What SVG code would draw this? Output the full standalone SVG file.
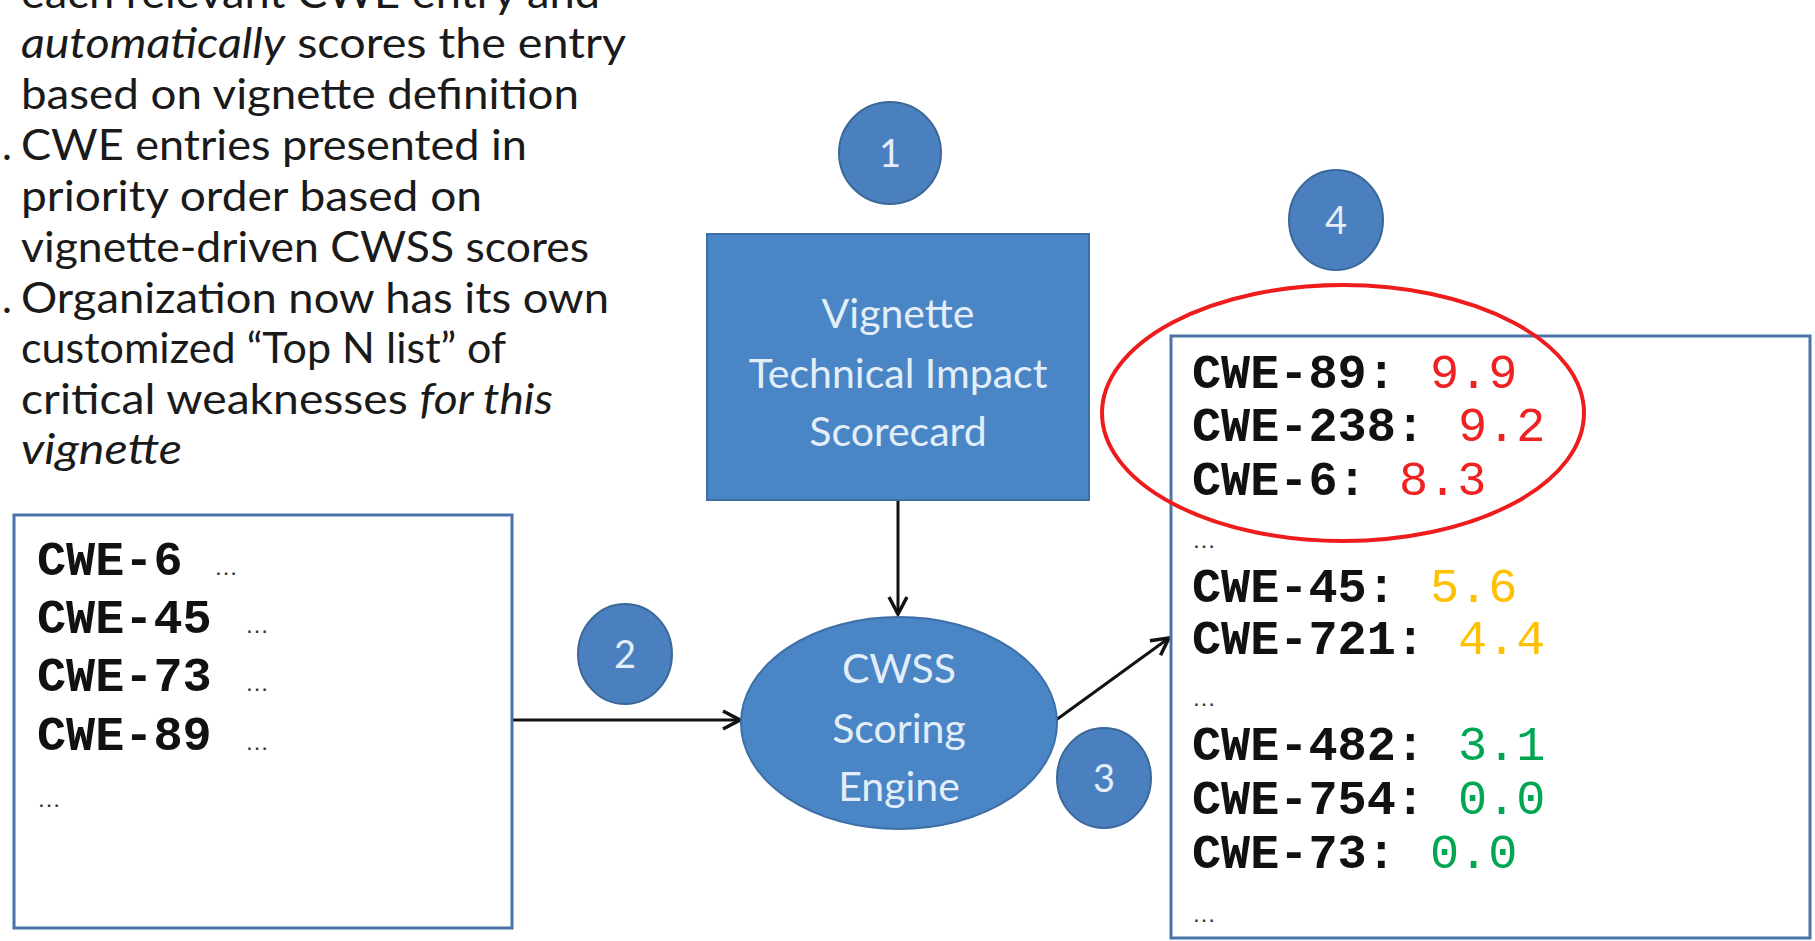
<svg xmlns="http://www.w3.org/2000/svg" width="1815" height="941" viewBox="0 0 1815 941">
<defs>
<style>
.para{font-family:Lato,"Open Sans",sans-serif;font-size:42px;fill:#1a1a1a}
.it{font-style:italic}
.node{fill:#4a86c6;stroke:#3d6fa6;stroke-width:2}
.badge{fill:#4a80c0;stroke:#3b6898;stroke-width:2}
.ntext{font-family:Lato,"Open Sans",sans-serif;font-size:41px;fill:#e3eef9;text-anchor:middle}
.btext{font-family:Lato,"Open Sans",sans-serif;font-size:38px;fill:#e3eef9;text-anchor:middle}
.mono{font-family:"Liberation Mono","Courier New",monospace;font-size:48.5px;font-weight:bold;fill:#111}
.score{font-weight:normal}
.dots{font-family:"Liberation Sans",sans-serif;font-size:24px;fill:#333}
.box{fill:#fff;stroke:#4a74a8;stroke-width:3}
.conn{stroke:#111;stroke-width:3;fill:none}
.red{fill:#ee2222}.org{fill:#ffc000}.grn{fill:#00a651}
</style>
<marker id="ah" viewBox="0 0 24 24" refX="21" refY="12" markerWidth="24" markerHeight="24" markerUnits="userSpaceOnUse" orient="auto">
<path d="M4,3 L21,12 L4,21" fill="none" stroke="#111" stroke-width="3.5"/>
</marker>
</defs>
<rect width="1815" height="941" fill="#fff"/>

<g id="description">
<text class="para" x="21" y="8" textLength="579" lengthAdjust="spacingAndGlyphs">each relevant CWE entry and</text>
<text class="para" x="21" y="58" textLength="605" lengthAdjust="spacingAndGlyphs"><tspan class="it">automatically</tspan> scores the entry</text>
<text class="para" x="21" y="109" textLength="558" lengthAdjust="spacingAndGlyphs">based on vignette definition</text>
<text class="para" x="2" y="160">.</text>
<text class="para" x="21" y="160" textLength="506" lengthAdjust="spacingAndGlyphs">CWE entries presented in</text>
<text class="para" x="21" y="211" textLength="461" lengthAdjust="spacingAndGlyphs">priority order based on</text>
<text class="para" x="21" y="262" textLength="568" lengthAdjust="spacingAndGlyphs">vignette-driven CWSS scores</text>
<text class="para" x="2" y="313">.</text>
<text class="para" x="21" y="313" textLength="588" lengthAdjust="spacingAndGlyphs">Organization now has its own</text>
<text class="para" x="21" y="363" textLength="485" lengthAdjust="spacingAndGlyphs">customized “Top N list” of</text>
<text class="para" x="21" y="414" textLength="532" lengthAdjust="spacingAndGlyphs">critical weaknesses <tspan class="it">for this</tspan></text>
<text class="para it" x="21" y="464" textLength="161" lengthAdjust="spacingAndGlyphs">vignette</text>
</g>

<g id="connectors">
<line class="conn" x1="898" y1="500" x2="898" y2="614" marker-end="url(#ah)"/>
<line class="conn" x1="512" y1="720" x2="740" y2="720" marker-end="url(#ah)"/>
<line class="conn" x1="1056" y1="720" x2="1169" y2="638" marker-end="url(#ah)"/>
</g>

<g id="input-list">
<rect class="box" x="14" y="515" width="498" height="413"/>
<text class="mono" x="37" y="575">CWE-6</text><text class="dots" x="214" y="575">…</text>
<text class="mono" x="37" y="633">CWE-45</text><text class="dots" x="245" y="633">…</text>
<text class="mono" x="37" y="691">CWE-73</text><text class="dots" x="245" y="691">…</text>
<text class="mono" x="37" y="750">CWE-89</text><text class="dots" x="245" y="750">…</text>
<text class="dots" x="37" y="807">…</text>
</g>

<g id="scorecard">
<rect class="node" x="707" y="234" width="382" height="266"/>
<text class="ntext" x="898" y="328">Vignette</text>
<text class="ntext" x="898" y="388">Technical Impact</text>
<text class="ntext" x="898" y="446">Scorecard</text>
</g>

<g id="engine">
<ellipse class="node" cx="899" cy="723" rx="158" ry="106"/>
<text class="ntext" x="899" y="683">CWSS</text>
<text class="ntext" x="899" y="743">Scoring</text>
<text class="ntext" x="899" y="801">Engine</text>
</g>

<g id="badge-1"><ellipse class="badge" cx="890" cy="153" rx="51" ry="51"/><text class="btext" x="890" y="167">1</text></g>
<g id="badge-2"><ellipse class="badge" cx="625" cy="654" rx="47" ry="50"/><text class="btext" x="625" y="668">2</text></g>
<g id="badge-3"><ellipse class="badge" cx="1104" cy="778" rx="47" ry="50"/><text class="btext" x="1104" y="792">3</text></g>
<g id="badge-4"><ellipse class="badge" cx="1336" cy="220" rx="47" ry="50"/><text class="btext" x="1336" y="234">4</text></g>

<g id="ranked-list">
<rect class="box" x="1171" y="336" width="639" height="602" stroke="#4f7eb0"/>
<text class="mono" x="1192" y="388">CWE-89:<tspan class="score red" x="1430">9.9</tspan></text>
<text class="mono" x="1192" y="441">CWE-238:<tspan class="score red" x="1458">9.2</tspan></text>
<text class="mono" x="1192" y="495">CWE-6:<tspan class="score red" x="1399">8.3</tspan></text>
<text class="dots" x="1192" y="548">…</text>
<text class="mono" x="1192" y="602">CWE-45:<tspan class="score org" x="1430">5.6</tspan></text>
<text class="mono" x="1192" y="654">CWE-721:<tspan class="score org" x="1458">4.4</tspan></text>
<text class="dots" x="1192" y="706">…</text>
<text class="mono" x="1192" y="760">CWE-482:<tspan class="score grn" x="1458">3.1</tspan></text>
<text class="mono" x="1192" y="814">CWE-754:<tspan class="score grn" x="1458">0.0</tspan></text>
<text class="mono" x="1192" y="868">CWE-73:<tspan class="score grn" x="1430">0.0</tspan></text>
<text class="dots" x="1192" y="922">…</text>
<ellipse id="highlight" cx="1343" cy="413" rx="241" ry="128" fill="none" stroke="#ee1c1c" stroke-width="4"/>
</g>
</svg>
